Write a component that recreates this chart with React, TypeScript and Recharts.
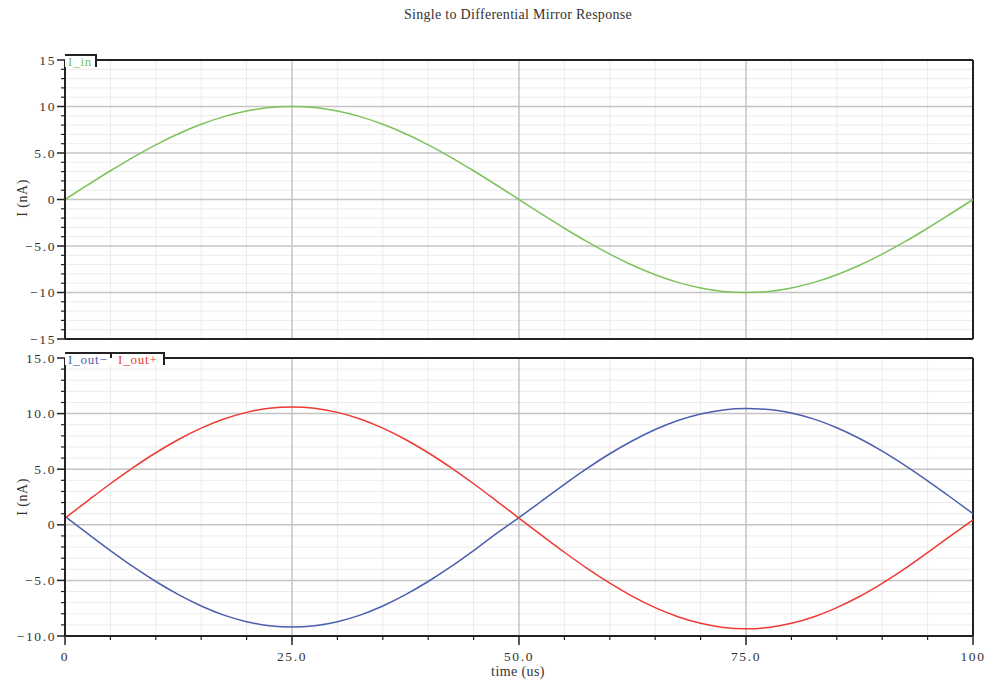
import React from 'react';
import { LineChart, Line, XAxis, YAxis, ReferenceLine } from 'recharts';

const time = [
  0, 2.5, 5, 7.5, 10, 12.5, 15, 17.5, 20, 22.5, 25, 27.5, 30, 32.5, 35, 37.5, 40, 42.5, 45, 47.5,
  50, 52.5, 55, 57.5, 60, 62.5, 65, 67.5, 70, 72.5, 75, 77.5, 80, 82.5, 85, 87.5, 90, 92.5, 95, 97.5, 100,
];

const iIn = [
  0, 1.56, 3.09, 4.54, 5.88, 7.07, 8.09, 8.91, 9.51, 9.88, 10, 9.88, 9.51, 8.91, 8.09, 7.07, 5.88, 4.54, 3.09, 1.56,
  0, -1.56, -3.09, -4.54, -5.88, -7.07, -8.09, -8.91, -9.51, -9.88, -10, -9.88, -9.51, -8.91, -8.09, -7.07, -5.88, -4.54, -3.09, -1.56, 0,
];

const iOutPlus = [
  0.6, 2.16, 3.69, 5.14, 6.48, 7.67, 8.69, 9.51, 10.11, 10.48, 10.6, 10.48, 10.11, 9.51, 8.69, 7.67, 6.48, 5.14, 3.69, 2.16,
  0.6, -0.95, -2.47, -3.92, -5.25, -6.43, -7.45, -8.27, -8.86, -9.23, -9.35, -9.23, -8.86, -8.27, -7.45, -6.45, -5.27, -3.95, -2.5, -1.02, 0.45,
];

const iOutMinus = [
  0.75, -0.8, -2.32, -3.77, -5.1, -6.28, -7.3, -8.12, -8.71, -9.08, -9.2, -9.08, -8.71, -8.12, -7.3, -6.28, -5.1, -3.77, -2.32, -0.8,
  0.65, 2.14, 3.64, 5.07, 6.39, 7.56, 8.57, 9.38, 9.97, 10.33, 10.45, 10.37, 10.05, 9.5, 8.73, 7.76, 6.63, 5.35, 3.96, 2.5, 1.0,
];

const xTicks = [0, 5, 10, 15, 20, 25, 30, 35, 40, 45, 50, 55, 60, 65, 70, 75, 80, 85, 90, 95, 100];
const xMajor = [0, 25, 50, 75, 100];
const xLabels: Record<number, string> = { 0: '0', 25: '25.0', 50: '50.0', 75: '75.0', 100: '100' };

const topYTicks = Array.from({ length: 31 }, (_, i) => 15 - i);
const topYLabels: Record<number, string> = { 15: '15', 10: '10', 5: '5.0', 0: '0', [-5]: '\u22125.0', [-10]: '\u221210', [-15]: '\u221215' };

const botYTicks = Array.from({ length: 26 }, (_, i) => 15 - i);
const botYLabels: Record<number, string> = { 15: '15.0', 10: '10.0', 5: '5.0', 0: '0', [-5]: '\u22125.0', [-10]: '\u221210.0' };

const topData = time.map((t, i) => ({ t, iIn: iIn[i] }));
const botData = time.map((t, i) => ({ t, minus: iOutMinus[i], plus: iOutPlus[i] }));

const FONT = '"Liberation Serif", "DejaVu Serif", serif';
const MINOR = '#ececec';
const MAJOR = '#c4c4c4';

const makeYTick = (labels: Record<number, string>) => (props: any) => {
  const { x, y, payload } = props;
  const label = labels[payload.value];
  const major = label !== undefined;
  return (
    <g>
      <line x1={x} x2={x - (major ? 8 : 4)} y1={y} y2={y} stroke="#222" strokeWidth={major ? 1.5 : 1.2} />
      {major && (
        <text x={x - 9} y={y} dy={4.5} textAnchor="end" fontFamily={FONT} fontSize={13.5} fill="#333" letterSpacing={1.6}>
          {label}
        </text>
      )}
    </g>
  );
};

const XTick = (props: any) => {
  const { x, y, payload } = props;
  const label = xLabels[payload.value];
  const major = label !== undefined;
  return (
    <g>
      <line x1={x} x2={x} y1={y} y2={y + (major ? 9 : 4)} stroke="#222" strokeWidth={major ? 1.5 : 1.2} />
      {major && (
        <text x={x} y={y + 25} textAnchor="middle" fontFamily={FONT} fontSize={13.5} fill="#333" letterSpacing={1.6}>
          {label}
        </text>
      )}
    </g>
  );
};

const gridLines = (yTicks: number[]) => [
  ...xTicks.filter((v) => !xMajor.includes(v)).map((v) => (
    <ReferenceLine key={`xm${v}`} x={v} stroke={MINOR} strokeWidth={1} />
  )),
  ...yTicks.filter((v) => v % 5 !== 0).map((v) => (
    <ReferenceLine key={`ym${v}`} y={v} stroke={MINOR} strokeWidth={1} />
  )),
  ...yTicks.filter((v) => v % 5 === 0).map((v) => (
    <ReferenceLine key={`yM${v}`} y={v} stroke={MAJOR} strokeWidth={1.5} />
  )),
  ...xMajor.map((v) => <ReferenceLine key={`xM${v}`} x={v} stroke={MAJOR} strokeWidth={1.5} />),
];

const tab = (left: number, top: number, width: number): React.CSSProperties => ({
  position: 'absolute',
  left,
  top,
  width,
  height: 11,
  background: '#fff',
  borderTop: '2px solid #222',
  borderRight: '2px solid #222',
  fontFamily: FONT,
  fontSize: 13,
  lineHeight: '12px',
  letterSpacing: 0.8,
  whiteSpace: 'nowrap',
});

const yLabelStyle = (top: number): React.CSSProperties => ({
  position: 'absolute',
  left: 23,
  top,
  transform: 'translate(-50%, -50%) rotate(-90deg)',
  fontFamily: FONT,
  fontSize: 14,
  letterSpacing: 0.5,
  color: '#333',
  whiteSpace: 'nowrap',
});

const textStyle = (top: number): React.CSSProperties => ({
  position: 'absolute',
  left: 0,
  top,
  width: 1036,
  textAlign: 'center',
  fontFamily: FONT,
  fontSize: 14,
  color: '#333',
  whiteSpace: 'nowrap',
});

export default function App() {
  return (
    <div style={{ position: 'absolute', left: 0, top: 0, width: 989, height: 683, background: '#fff' }}>
      <div style={{ position: 'absolute', left: 0, top: 0, width: 989, height: 350 }}>
        <LineChart width={989} height={350} data={topData} margin={{ top: 60, right: 16, left: 0, bottom: 11 }}>
          <XAxis dataKey="t" type="number" domain={[0, 100]} hide />
          <YAxis
            type="number"
            domain={[-15, 15]}
            ticks={topYTicks}
            interval={0}
            width={65}
            tickSize={0}
            tickMargin={0}
            tick={makeYTick(topYLabels)}
            axisLine={{ stroke: '#222', strokeWidth: 2 }}
            tickLine={false}
          />
          {gridLines(topYTicks)}
          <ReferenceLine y={15} stroke="#222" strokeWidth={2} />
          <ReferenceLine y={-15} stroke="#222" strokeWidth={2} />
          <ReferenceLine x={100} stroke="#222" strokeWidth={2} />
          <Line type="monotone" dataKey="iIn" stroke="#7cc35b" strokeWidth={1.5} dot={false} isAnimationActive={false} />
        </LineChart>
      </div>

      <div style={{ position: 'absolute', left: 0, top: 345, width: 989, height: 338 }}>
        <LineChart width={989} height={338} data={botData} margin={{ top: 13, right: 16, left: 0, bottom: 7 }}>
          <XAxis
            dataKey="t"
            type="number"
            domain={[0, 100]}
            ticks={xTicks}
            interval={0}
            height={40}
            tickSize={0}
            tickMargin={0}
            tick={XTick}
            axisLine={{ stroke: '#222', strokeWidth: 2 }}
            tickLine={false}
          />
          <YAxis
            type="number"
            domain={[-10, 15]}
            ticks={botYTicks}
            interval={0}
            width={65}
            tickSize={0}
            tickMargin={0}
            tick={makeYTick(botYLabels)}
            axisLine={{ stroke: '#222', strokeWidth: 2 }}
            tickLine={false}
          />
          {gridLines(botYTicks)}
          <ReferenceLine y={15} stroke="#222" strokeWidth={2} />
          <ReferenceLine x={100} stroke="#222" strokeWidth={2} />
          <Line type="monotone" dataKey="minus" stroke="#4c5eae" strokeWidth={1.5} dot={false} isAnimationActive={false} />
          <Line type="monotone" dataKey="plus" stroke="#ee3a32" strokeWidth={1.5} dot={false} isAnimationActive={false} />
        </LineChart>
      </div>

      <div style={tab(65, 54, 30)}>
        <span style={{ color: '#7cc35b', marginLeft: 3 }}>I_in</span>
      </div>
      <div style={tab(65, 352, 98)}>
        <span style={{ color: '#4c5eae', marginLeft: 3 }}>I_out&minus;</span>
        <span style={{ position: 'absolute', left: 45, top: -2, width: 2, height: 6, background: '#222' }} />
        <span style={{ color: '#ee3a32', position: 'absolute', left: 53, top: 0 }}>I_out+</span>
      </div>

      <div style={{ ...textStyle(7), letterSpacing: 0.3 }}>Single to Differential Mirror Response</div>
      <div style={yLabelStyle(198)}>I (nA)</div>
      <div style={yLabelStyle(497)}>I (nA)</div>
      <div style={{ ...textStyle(664), letterSpacing: 0.4 }}>time (us)</div>
    </div>
  );
}
